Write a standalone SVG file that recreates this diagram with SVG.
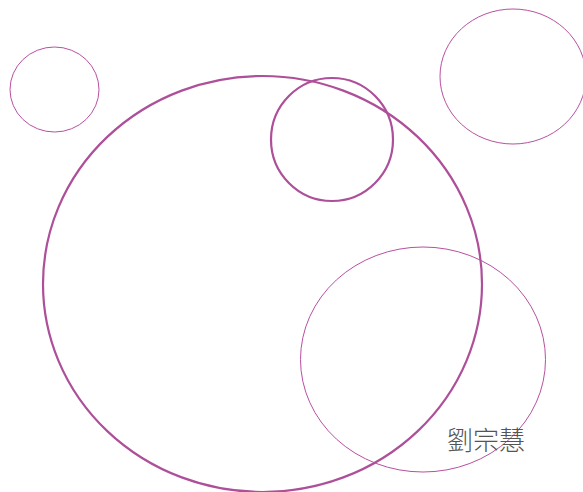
<svg xmlns="http://www.w3.org/2000/svg" width="583" height="492" viewBox="0 0 583 492">
<style>
.thin{fill:none;stroke:#b8509f;stroke-width:1}
.thick{fill:none;stroke:#ad4f99;stroke-width:2.2}
.lbl{font-family:"Noto Sans CJK TC","Noto Sans CJK SC",sans-serif;font-size:26px;font-weight:300;fill:#555555}
</style>
<rect width="583" height="492" fill="#ffffff"/>
<g id="c1"><ellipse class="thin" cx="54.5" cy="89.5" rx="44.5" ry="42.5"/></g>
<g id="c2"><ellipse class="thick" cx="262.5" cy="284" rx="219.5" ry="208"/></g>
<g id="c3"><ellipse class="thick" cx="332" cy="139.5" rx="61" ry="61.5"/></g>
<g id="c4"><ellipse class="thin" cx="513" cy="76.5" rx="73" ry="67.5"/></g>
<g id="c5"><ellipse class="thin" cx="423" cy="359.5" rx="122.5" ry="112.5"/></g>
<g id="label"><text class="lbl" x="447" y="450">劉宗慧</text></g>
</svg>
